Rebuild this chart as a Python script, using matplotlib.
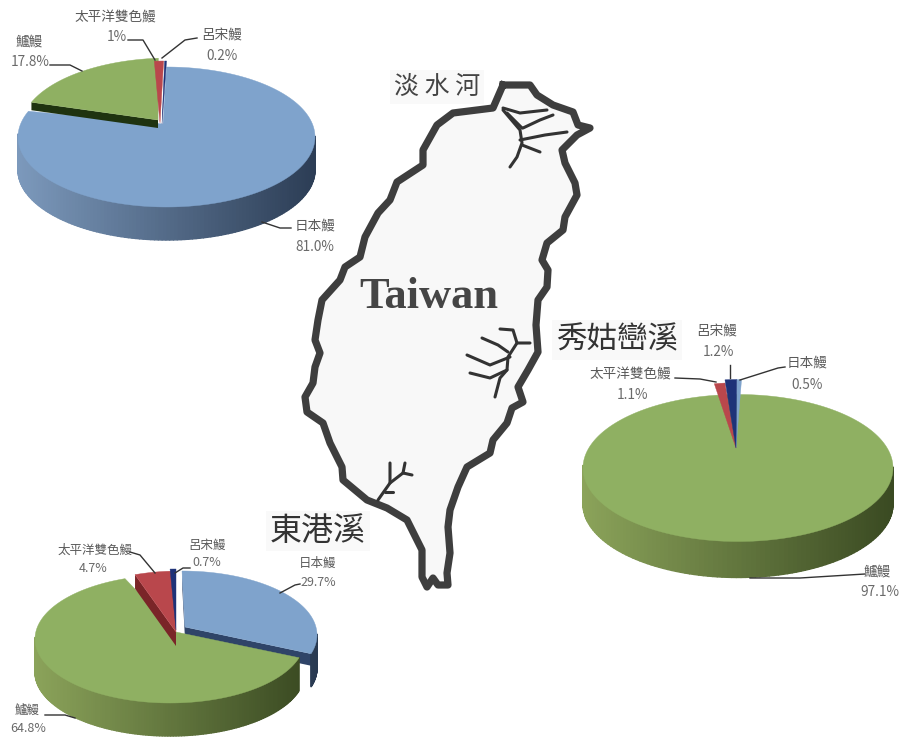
import numpy as np
import matplotlib
matplotlib.use('Agg')
import matplotlib.pyplot as plt
from matplotlib.collections import PolyCollection

plt.rcParams['font.family'] = ['Noto Sans CJK TC', 'DejaVu Sans']

# species order in every pie
species = ['日本鰻', '鱸鰻', '太平洋雙色鰻', '呂宋鰻']
tamsui_vals = [81.0, 17.8, 1, 0.2]
xiuguluan_vals = [0.5, 97.1, 1.1, 1.2]
donggang_vals = [29.7, 64.8, 4.7, 0.7]

top_colors = ['#7FA3CC', '#8FB062', '#B9474C', '#1E3278']
side_left = ['#7C99BC', '#8BA35A', '#A04045', '#1E3278']
side_right = ['#2C3D55', '#3A4A22', '#5A2225', '#101C40']
cut_colors = ['#2F4468', '#1F3310', '#7A2528', '#101C40']

# map outline, clockwise from the north tip (pixels)
coast_x = [503, 530, 537, 553, 573, 578, 590, 577, 562, 565, 575, 577, 565, 563, 547, 542, 548, 547, 538, 536,
           538, 528, 518, 523, 512, 507, 493, 490, 467, 458, 450, 448, 450, 447, 448, 438, 433, 427, 422, 422,
           407, 387, 367, 343, 342, 330, 323, 307, 305, 313, 315, 320, 315, 318, 322, 340, 345, 360, 365, 378,
           390, 397, 423, 423, 437, 453, 493]
coast_y = [85, 85, 95, 105, 112, 125, 128, 135, 150, 163, 183, 195, 217, 230, 243, 260, 270, 287, 300, 325,
           352, 370, 387, 402, 408, 423, 440, 453, 467, 487, 510, 527, 553, 573, 585, 585, 578, 587, 577, 550,
           520, 508, 500, 480, 467, 443, 423, 412, 397, 383, 367, 353, 340, 320, 300, 280, 267, 257, 237, 213,
           200, 182, 165, 150, 125, 113, 108]

rivers = [
    ([503, 520, 547], [108, 113, 110]),
    ([503, 520, 522, 517, 510], [110, 130, 143, 157, 167]),
    ([520, 545, 567], [140, 135, 132]),
    ([523, 540, 553], [128, 120, 115]),
    ([507, 522], [113, 128]),
    ([522, 540], [145, 152]),
    ([530, 517, 508, 507, 500, 495], [343, 343, 357, 370, 378, 397]),
    ([507, 490, 470], [370, 378, 373]),
    ([510, 490, 467], [357, 365, 355]),
    ([508, 498, 482], [352, 345, 338]),
    ([517, 513, 500], [343, 330, 329]),
    ([378, 390, 390], [500, 483, 463]),
    ([390, 403, 405], [483, 473, 463]),
    ([403, 412], [473, 475]),
    ([385, 393], [492, 492]),
]

fig = plt.figure(figsize=(8.99, 7.40), dpi=100)
ax = fig.add_axes([0, 0, 1, 1])
ax.set_xlim(0, 899)
ax.set_ylim(740, 0)
ax.axis('off')


def lerp_color(c1, c2, f):
    a = np.array(matplotlib.colors.to_rgb(c1))
    b = np.array(matplotlib.colors.to_rgb(c2))
    return a + (b - a) * f


def draw_pie(vals, cx, cy, a, b, depth, apex, start, offsets, apex_offsets, pulls, cuts, order, under=None):
    vals = np.array(vals, dtype=float)
    fracs = vals / vals.sum() * 360
    starts = start + np.concatenate([[0], np.cumsum(fracs)[:-1]])
    for i in order:
        t = np.radians(np.linspace(starts[i], starts[i] + fracs[i], 200))
        dx, dy = offsets[i]
        ox = apex[0] + apex_offsets[i][0]
        oy = apex[1] + apex_offsets[i][1]
        ex = cx + dx + a * np.sin(t)
        ey = cy + dy - b * np.cos(t)
        # tall slivers stick out above the rim
        ey = oy + (ey - oy) * pulls[i]

        # cut faces
        if cuts[i] > 0:
            for k in [0, -1]:
                ax.fill([ox, ex[k], ex[k], ox], [oy, ey[k], ey[k] + cuts[i], oy + cuts[i]],
                        color=cut_colors[i], lw=0, zorder=3)

        # side, shaded left to right
        polys = []
        cols = []
        for j in range(len(t) - 1):
            if np.cos(t[j]) < 0.02:
                polys.append([(ex[j], ey[j]), (ex[j + 1], ey[j + 1]),
                              (ex[j + 1], ey[j + 1] + depth), (ex[j], ey[j] + depth)])
                cols.append(lerp_color(side_left[i], side_right[i], (ex[j] - cx + a) / (2 * a)))
        if polys:
            ax.add_collection(PolyCollection(polys, facecolors=cols, edgecolors=cols, linewidths=1.0, zorder=3))

        if under is not None and i == under:
            # closes the small gap beside the tall slivers
            tt = np.radians(np.linspace(0, 360, 300))
            ax.fill(cx + a * np.sin(tt), cy - b * np.cos(tt), color=top_colors[i], lw=0.3, zorder=3)
        else:
            ax.fill(np.r_[ox, ex], np.r_[oy, ey], color=top_colors[i], lw=0.3, zorder=3)


def label(name, val, x1, y1, x2, y2, leader, size=9.8):
    ax.text(x1, y1, name, fontsize=size, color='#5A5A5A', ha='center', va='center', zorder=5)
    ax.text(x2, y2, f'{val}%', fontsize=size, color='#6A6A6A', ha='center', va='center', zorder=5)
    ax.plot(leader[0], leader[1], color='#333333', lw=1.0, zorder=4)


# map
ax.fill(coast_x, coast_y, color='#F8F8F8', lw=0, zorder=1)
ax.plot(coast_x + coast_x[:1], coast_y + coast_y[:1], color='#3E3E3E', lw=5.2, solid_joinstyle='round', zorder=2)
for rx, ry in rivers:
    ax.plot(rx, ry, color='#333333', lw=2.2, solid_capstyle='round', zorder=2)

ax.text(429, 297, 'Taiwan', fontsize=32, fontweight='bold', family='Liberation Serif',
        color='#454545', ha='center', va='center', zorder=3)
label_bg = dict(facecolor='#F9F9F9', edgecolor='none', pad=3)
ax.text(437, 87, '淡 水 河', fontsize=18, color='#444444', ha='center', va='center', bbox=label_bg, zorder=3)
ax.text(617, 340, '秀姑巒溪', fontsize=22, color='#333333', ha='center', va='center', bbox=label_bg, zorder=3)
ax.text(318, 531, '東港溪', fontsize=23, color='#333333', ha='center', va='center', bbox=label_bg, zorder=3)

# pies
draw_pie(tamsui_vals, 166.5, 137, 148.5, 70, 33, (163, 124), 0,
         [(0, 0), (3, -9), (-1, -6), (0, -6)], [(0, 0), (-5, -4), (-3, -1), (-1, 0)],
         [1, 1, 1, 1], [0, 8, 0, 0], [0, 1, 2, 3])
draw_pie(xiuguluan_vals, 738, 468, 155, 73.5, 36, (736, 448), -0.5,
         [(0, 0), (0, 0), (0, 0), (0, 0)], [(0, 0), (0, 0), (0, 0), (0, 0)],
         [1.28, 1, 1.22, 1.28], [0, 0, 0, 0], [1, 0, 2, 3], under=1)
draw_pie(donggang_vals, 170, 639, 135, 64, 33, (176, 632), 0,
         [(12, -4), (0, 0), (10, -4), (6, -6)], [(9, -5), (0, 0), (0, 0), (0, -2)],
         [1, 1, 1, 1], [12, 0, 14, 0], [0, 1, 2, 3])

label(species[2], tamsui_vals[2], 115, 18, 117, 37, ([128, 143, 155], [40, 40, 60]))
label(species[3], tamsui_vals[3], 222, 36, 222, 56, ([162, 185, 197], [58, 40, 38]))
label(species[1], tamsui_vals[1], 29, 42, 30, 62, ([50, 70, 82], [65, 65, 71]))
label(species[0], tamsui_vals[0], 315, 226, 315, 247, ([262, 280, 291], [222, 228, 228]))

label(species[3], xiuguluan_vals[3], 717, 332, 718, 352, ([730, 730], [365, 378]))
label(species[0], xiuguluan_vals[0], 807, 363, 807, 385, ([740, 778, 785], [380, 368, 367]))
label(species[2], xiuguluan_vals[2], 630, 375, 632, 395, ([675, 700, 716], [378, 379, 382]))
label(species[1], xiuguluan_vals[1], 877, 572, 880, 592, ([750, 800, 865], [578, 578, 574]))

label(species[2], donggang_vals[2], 95, 550, 93, 568, ([130, 140, 155], [552, 555, 573]), 9)
label(species[3], donggang_vals[3], 207, 545, 207, 562, ([175, 183, 190], [573, 568, 568]), 9)
label(species[0], donggang_vals[0], 318, 563, 318, 582, ([280, 295, 300], [593, 585, 584]), 9)
label(species[1], donggang_vals[1], 27, 710, 28, 728, ([45, 65, 75], [715, 715, 718]), 9)

fig.savefig('out.png', dpi=100)
